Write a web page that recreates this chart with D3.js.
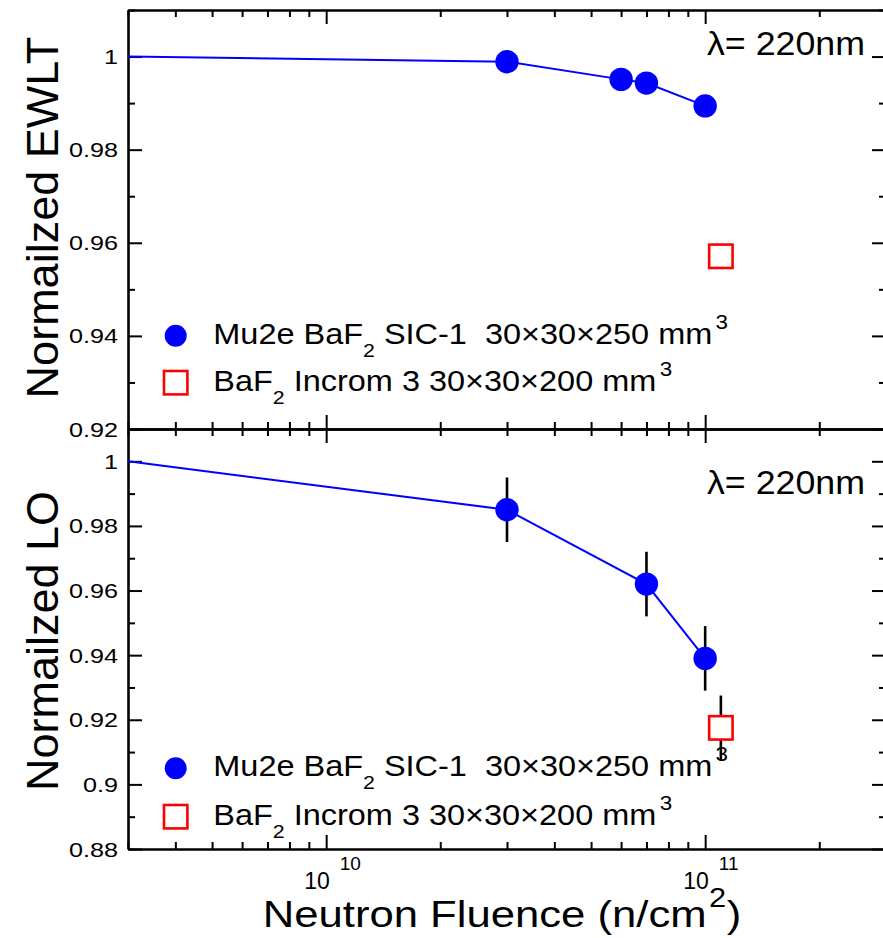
<!DOCTYPE html>
<html>
<head>
<meta charset="utf-8">
<script src="https://cdn.jsdelivr.net/npm/d3@7"></script>
<style>
  body { margin: 0; background: #fff; }
  svg { display: block; font-family: "Liberation Sans", Arial, sans-serif; }
  text { white-space: pre; fill: #000; }
</style>
</head>
<body>
<div id="chart"></div>
<script>
// Data
const sicFluence = [3e10, 6e10, 7e10, 1e11];
const sicEwlt = [0.9989, 0.9951, 0.9943, 0.9894];
const sicLoFluence = [3e10, 7e10, 1e11];
const sicLo = [0.985, 0.962, 0.939];
const sicLoErr = [0.01, 0.01, 0.01];
const incromFluence = [1.1e11];
const incromEwlt = [0.9571];
const incromLo = [0.9175];
const incromLoErr = [0.01];
// the lines start from the unirradiated reference (normalized to 1)
const refFluence = 3e9;
const refValue = 1;

const xDomain = [3e9, 3e11];
const xLabelPowers = [10, 11];
const ewltDomain = [0.92, 1.01];
const ewltMajor = [0.92, 0.94, 0.96, 0.98, 1];
const ewltMinor = [0.93, 0.95, 0.97, 0.99, 1.01];
const loDomain = [0.88, 1.01];
const loMajor = [0.88, 0.9, 0.92, 0.94, 0.96, 0.98, 1];
const loMinor = [0.89, 0.91, 0.93, 0.95, 0.97, 0.99, 1.01];

const legendNames = [
  ["Mu2e BaF", "2", " SIC-1  30\u00d730\u00d7250 mm", "3"],
  ["BaF", "2", " Incrom 3 30\u00d730\u00d7200 mm", "3"]
];

const width = 883, height = 938;
const blue = "#0000ff", red = "#ff0000";

const svg = d3.select("#chart").append("svg")
  .attr("width", width)
  .attr("height", height);

const x = d3.scaleLog().domain(xDomain).range([128, 886]);
const xMajor = x.ticks().filter(d => Math.abs(Math.log10(d) - Math.round(Math.log10(d))) < 1e-9);
const xMinor = x.ticks().filter(d => !xMajor.includes(d));

// text stretched horizontally like the original figure
function wideText(parent, px, py, size, sx, anchor) {
  return parent.append("text")
    .attr("transform", `translate(${px},${py}) scale(${sx},1)`)
    .attr("font-size", size)
    .attr("text-anchor", anchor || "start");
}

function drawPanel(cfg) {
  const y = d3.scaleLinear().domain(cfg.domain).range(cfg.range);
  const g = svg.append("g");
  const [yBottom, yTop] = cfg.range;

  const axes = [
    { ax: d3.axisLeft(y), t: "translate(128,0)", major: cfg.major, minor: cfg.minor },
    { ax: d3.axisRight(y), t: "translate(886,0)", major: cfg.major, minor: cfg.minor },
    { ax: d3.axisTop(x), t: `translate(0,${yTop})`, major: xMajor, minor: xMinor },
    { ax: d3.axisBottom(x), t: `translate(0,${yBottom})`, major: xMajor, minor: xMinor }
  ];
  axes.forEach(a => {
    g.append("g").attr("transform", a.t)
      .call(a.ax.tickValues(a.major).tickSize(-14).tickSizeOuter(0).tickFormat(""))
      .call(s => s.select(".domain").attr("stroke", "#000").attr("stroke-width", 2.6));
    g.append("g").attr("transform", a.t)
      .call(a.ax.tickValues(a.minor).tickSize(-7).tickSizeOuter(0).tickFormat(""))
      .call(s => s.select(".domain").remove());
  });
  g.selectAll(".tick line").attr("stroke", "#000").attr("stroke-width", 2);

  // y tick labels
  cfg.major.forEach(v => {
    wideText(g, 118, y(v) + 7.5, 21, 1.2, "end").text(String(+v.toFixed(2)));
  });

  // y title
  g.append("text")
    .attr("transform", `translate(58,${cfg.titleY}) rotate(-90)`)
    .attr("text-anchor", "middle")
    .attr("font-size", 45)
    .text(cfg.title);

  // connecting line through the SIC-1 points
  const lineData = [[refFluence, refValue]].concat(cfg.fluence.map((f, i) => [f, cfg.values[i]]));
  g.append("path")
    .datum(lineData)
    .attr("fill", "none")
    .attr("stroke", blue)
    .attr("stroke-width", 2)
    .attr("d", d3.line().x(d => x(d[0])).y(d => y(d[1])));

  // error bars
  if (cfg.errors) {
    g.selectAll(".errSic").data(cfg.fluence).enter().append("line")
      .attr("x1", d => x(d)).attr("x2", d => x(d))
      .attr("y1", (d, i) => y(cfg.values[i] - cfg.errors[i]))
      .attr("y2", (d, i) => y(cfg.values[i] + cfg.errors[i]))
      .attr("stroke", "#000").attr("stroke-width", 2.6);
  }
  if (cfg.incErrors) {
    g.selectAll(".errInc").data(incromFluence).enter().append("line")
      .attr("x1", d => x(d)).attr("x2", d => x(d))
      .attr("y1", (d, i) => y(cfg.incValues[i] - cfg.incErrors[i]))
      .attr("y2", (d, i) => y(cfg.incValues[i] + cfg.incErrors[i]))
      .attr("stroke", "#000").attr("stroke-width", 2.6);
  }

  // markers
  g.selectAll(".sic").data(cfg.fluence).enter().append("circle")
    .attr("cx", d => x(d))
    .attr("cy", (d, i) => y(cfg.values[i]))
    .attr("r", 11.7)
    .attr("fill", blue);

  g.selectAll(".inc").data(incromFluence).enter().append("rect")
    .attr("x", d => x(d) - 11.7)
    .attr("y", (d, i) => y(cfg.incValues[i]) - 11.7)
    .attr("width", 23.4).attr("height", 23.4)
    .attr("fill", "#fff")
    .attr("stroke", red).attr("stroke-width", 2.6);

  // wavelength note
  wideText(g, 707, cfg.lambdaY, 32.5, 1.1).text("\u03bb= 220nm");

  // legend
  const lg = g.append("g");
  lg.append("circle").attr("cx", 175.7).attr("cy", cfg.legendY[0]).attr("r", 11).attr("fill", blue);
  lg.append("rect")
    .attr("x", 175.7 - 11.7).attr("y", cfg.legendY[1] - 11.7)
    .attr("width", 23.4).attr("height", 23.4)
    .attr("fill", "#fff").attr("stroke", red).attr("stroke-width", 2.6);
  legendNames.forEach((parts, i) => {
    const t = wideText(lg, 213.3, cfg.legendY[i] + 8, 29, 1.12);
    t.append("tspan").text(parts[0]);
    t.append("tspan").attr("font-size", 19).attr("dy", 13).text(parts[1]);
    t.append("tspan").attr("dy", -13).text(parts[2]);
    t.append("tspan").attr("font-size", 20).attr("dx", 3).attr("dy", -15).text(parts[3]);
  });
}

drawPanel({
  domain: ewltDomain, range: [429, 10],
  major: ewltMajor, minor: ewltMinor,
  title: "Normailzed EWLT", titleY: 217.5,
  fluence: sicFluence, values: sicEwlt,
  incValues: incromEwlt,
  lambdaY: 55,
  legendY: [335.7, 382.7]
});

drawPanel({
  domain: loDomain, range: [849, 429],
  major: loMajor, minor: loMinor,
  title: "Normailzed LO", titleY: 641,
  fluence: sicLoFluence, values: sicLo, errors: sicLoErr,
  incValues: incromLo, incErrors: incromLoErr,
  lambdaY: 494,
  legendY: [768.3, 816.7]
});

// x tick labels (10^n), base and exponent in one text
xLabelPowers.forEach(p => {
  const px = x(Math.pow(10, p));
  const t = svg.append("text")
    .attr("x", px - 22).attr("y", 888.5)
    .attr("font-size", 23);
  t.append("tspan").text("10");
  t.append("tspan").attr("font-size", 19).attr("dx", 10).attr("dy", -19).text(String(p));
});

// x title; the exponent is its own text so the title box stays low
const xt = wideText(svg, 262.7, 927, 37, 1.18);
xt.append("tspan").text("Neutron Fluence (n/cm");
xt.append("tspan").attr("dx", 17).text(")");
wideText(svg, 709, 907, 28, 1.1).text("2");
</script>
</body>
</html>
